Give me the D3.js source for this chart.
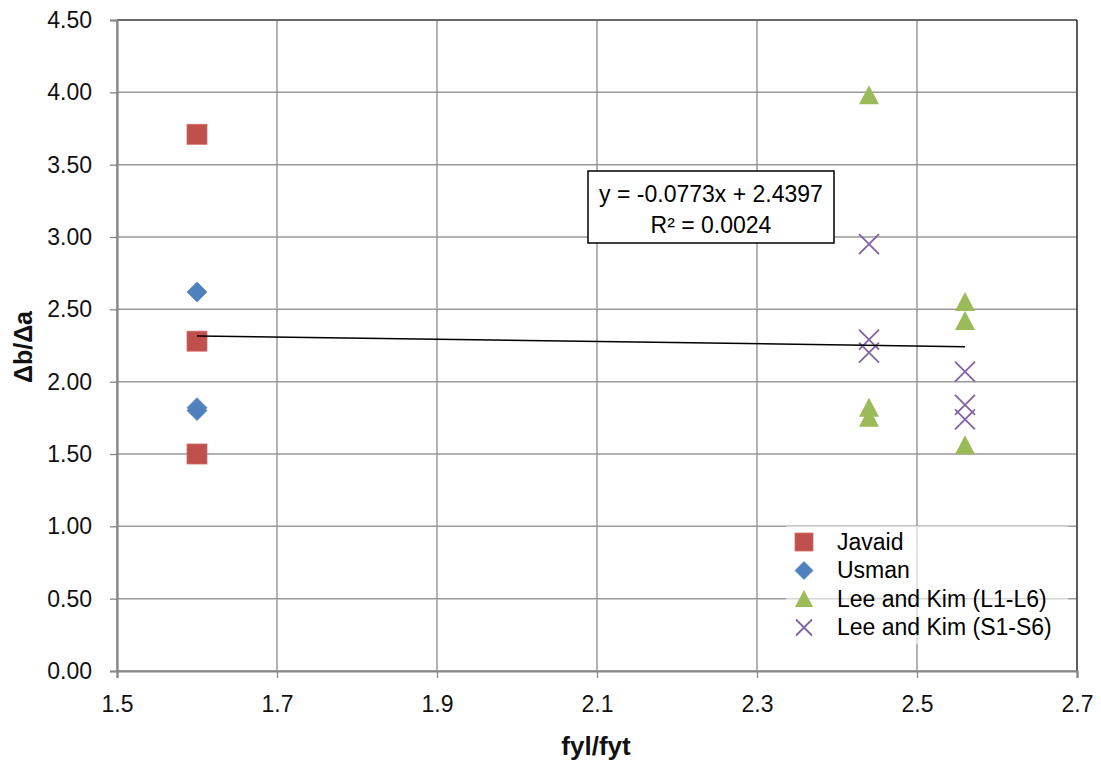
<!DOCTYPE html>
<html>
<head>
<meta charset="utf-8">
<script src="https://cdn.jsdelivr.net/npm/d3@7"></script>
<style>
  html, body { margin: 0; padding: 0; background: #fff; }
  svg { display: block; font-family: "Liberation Sans", Arial, sans-serif; }
</style>
</head>
<body>
<svg id="chart" width="1101" height="765"></svg>
<script>
// Series values (fyl/fyt, Δb/Δa)
const javaidX = [1.6, 1.6, 1.6];
const javaidY = [3.71, 2.28, 1.50];
const usmanX = [1.6, 1.6, 1.6];
const usmanY = [2.62, 1.82, 1.80];
const leeLX = [2.44, 2.44, 2.44, 2.56, 2.56, 2.56];
const leeLY = [3.98, 1.82, 1.75, 2.55, 2.42, 1.56];
const leeSX = [2.44, 2.44, 2.44, 2.56, 2.56, 2.56];
const leeSY = [2.95, 2.29, 2.20, 2.07, 1.84, 1.74];

// Linear trend line
const trendSlope = -0.0773;
const trendIntercept = 2.4397;
const trendR2 = 0.0024;
const trendRange = [1.6, 2.56];

const xTicks = [1.5, 1.7, 1.9, 2.1, 2.3, 2.5, 2.7];
const yTicks = [0, 0.5, 1, 1.5, 2, 2.5, 3, 3.5, 4, 4.5];

const seriesNames = ["Javaid", "Usman", "Lee and Kim (L1-L6)", "Lee and Kim (S1-S6)"];
const seriesColors = ["#C0504D", "#4F81BD", "#9BBB59", "#8064A2"];
const seriesShapes = ["square", "diamond", "triangle", "cross"];

const svg = d3.select("#chart");
const plotLeft = 117, plotRight = 1077, plotTop = 20, plotBottom = 671;
const labelFont = 23;

const x = d3.scaleLinear().domain([1.5, 2.7]).range([plotLeft, plotRight]);
const y = d3.scaleLinear().domain([0, 4.5]).range([plotBottom, plotTop]);

// Gridlines
const grid = svg.append("g");
grid.selectAll("line.h").data(yTicks).join("line").attr("class", "h")
  .attr("x1", plotLeft).attr("x2", plotRight)
  .attr("y1", d => y(d)).attr("y2", d => y(d))
  .attr("stroke", "#9a9a9a").attr("stroke-width", 1.5);
grid.selectAll("line.v").data(xTicks).join("line").attr("class", "v")
  .attr("y1", plotTop).attr("y2", plotBottom)
  .attr("x1", d => x(d)).attr("x2", d => x(d))
  .attr("stroke", "#9a9a9a").attr("stroke-width", 1.5);

// Plot border (top/right)
svg.append("line").attr("x1", plotLeft).attr("x2", plotRight).attr("y1", plotTop).attr("y2", plotTop)
  .attr("stroke", "#222").attr("stroke-width", 1.2);
svg.append("line").attr("x1", plotRight).attr("x2", plotRight).attr("y1", plotTop).attr("y2", plotBottom)
  .attr("stroke", "#222").attr("stroke-width", 1.2);

// Axes
const yAxis = d3.axisLeft(y).tickValues(yTicks).tickFormat(d3.format(".2f")).tickSize(7).tickPadding(18);
const xAxis = d3.axisBottom(x).tickValues(xTicks).tickFormat(d => String(d)).tickSize(7).tickPadding(18);

const gy = svg.append("g").attr("transform", `translate(${plotLeft},0)`).call(yAxis);
const gx = svg.append("g").attr("transform", `translate(0,${plotBottom})`).call(xAxis);
[gx, gy].forEach(g => {
  g.select(".domain").attr("stroke", "#868686").attr("stroke-width", 2.2);
  g.selectAll(".tick line").attr("stroke", "#868686").attr("stroke-width", 1.3);
  g.selectAll(".tick text").attr("fill", "#111").attr("font-size", labelFont)
    .attr("font-family", "'Liberation Sans', Arial, sans-serif");
});

// Axis titles
svg.append("text").attr("x", 596).attr("y", 755).attr("text-anchor", "middle")
  .attr("font-size", 26).attr("font-weight", "bold").attr("fill", "#111").text("fyl/fyt");
svg.append("text").attr("transform", "translate(32,347) rotate(-90)")
  .attr("text-anchor", "middle").attr("font-size", 25).attr("font-weight", "bold")
  .attr("fill", "#111").text("Δb/Δa");

// Marker drawing
function drawMarker(g, shape, color, cx, cy, s) {
  const h = s / 2;
  if (shape === "square") {
    g.append("rect").attr("x", cx - h).attr("y", cy - h).attr("width", s).attr("height", s)
      .attr("fill", color).attr("stroke", "#d46a67").attr("stroke-width", 0.8);
  } else if (shape === "diamond") {
    g.append("path").attr("d", `M${cx},${cy - h}L${cx + h},${cy}L${cx},${cy + h}L${cx - h},${cy}Z`)
      .attr("fill", color).attr("stroke", "#5b8bc5").attr("stroke-width", 0.8);
  } else if (shape === "triangle") {
    g.append("path").attr("d", `M${cx},${cy - h}L${cx + h},${cy + h * 0.9}L${cx - h},${cy + h * 0.9}Z`)
      .attr("fill", color);
  } else {
    g.append("path").attr("d", `M${cx - h},${cy - h}L${cx + h},${cy + h}M${cx + h},${cy - h}L${cx - h},${cy + h}`)
      .attr("stroke", color).attr("stroke-width", 1.8).attr("fill", "none");
  }
}

const series = [
  { xs: javaidX, ys: javaidY },
  { xs: usmanX, ys: usmanY },
  { xs: leeLX, ys: leeLY },
  { xs: leeSX, ys: leeSY }
];

const marks = svg.append("g");
series.forEach((s, i) => {
  s.xs.forEach((xv, j) => {
    drawMarker(marks, seriesShapes[i], seriesColors[i], x(xv), y(s.ys[j]), 20);
  });
});

// Trend line
svg.append("line")
  .attr("x1", x(trendRange[0])).attr("y1", y(trendSlope * trendRange[0] + trendIntercept))
  .attr("x2", x(trendRange[1])).attr("y2", y(trendSlope * trendRange[1] + trendIntercept))
  .attr("stroke", "#000").attr("stroke-width", 1.5);

// Equation box
const eq = svg.append("g");
eq.append("rect").attr("x", 588).attr("y", 171).attr("width", 246).attr("height", 72)
  .attr("fill", "#fff").attr("stroke", "#000").attr("stroke-width", 1.5);
eq.append("text").attr("x", 711).attr("y", 202).attr("text-anchor", "middle")
  .attr("font-size", labelFont).attr("fill", "#000")
  .text(`y = ${trendSlope}x + ${trendIntercept}`);
eq.append("text").attr("x", 711).attr("y", 233).attr("text-anchor", "middle")
  .attr("font-size", labelFont).attr("fill", "#000")
  .text(`R² = ${trendR2.toFixed(4)}`);

// Legend
const legend = svg.append("g");
legend.append("rect").attr("x", 786).attr("y", 526).attr("width", 282).attr("height", 118)
  .attr("fill", "#fff").attr("fill-opacity", 0.6);
const legendRows = [542, 570.5, 599, 627.5];
seriesNames.forEach((name, i) => {
  drawMarker(legend, seriesShapes[i], seriesColors[i], 804, legendRows[i], i === 3 ? 16 : 18);
  legend.append("text").attr("x", 837).attr("y", legendRows[i] + 7.5)
    .attr("font-size", labelFont).attr("fill", "#000").text(name);
});
</script>
</body>
</html>
